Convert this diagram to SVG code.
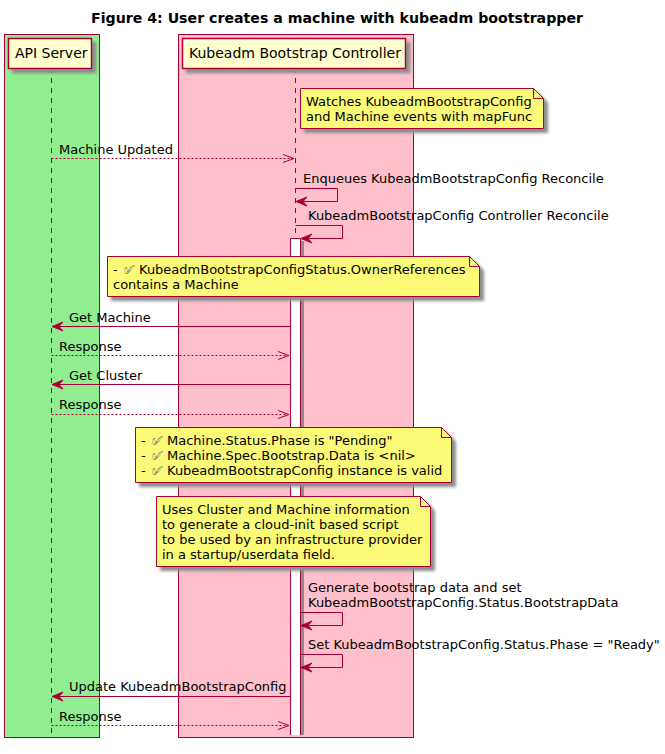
<svg xmlns="http://www.w3.org/2000/svg" width="665" height="754" viewBox="0 0 665 754">
<style>
text{font-family:"DejaVu Sans",sans-serif;font-size:13px;fill:#000}
.title{font-size:14px;font-weight:bold}
.pt{font-size:14px}
text.chk{font-family:"DejaVu Sans",sans-serif;font-variant-emoji:text;fill:#777}
.box{stroke:#A80036;stroke-width:1}
.part{fill:#FEFECE;stroke:#A80036;stroke-width:1.5;filter:url(#sh)}
.note{fill:#FBFB77;stroke:#A80036;stroke-width:1}
.notes{filter:url(#sh)}
.fold{fill:#FBFB77;stroke:#A80036;stroke-width:1}
.life{stroke:#A80036;stroke-width:1;stroke-dasharray:5 5;fill:none}
.sol{stroke:#A80036;stroke-width:1;fill:none}
.dash{stroke:#A80036;stroke-width:1;stroke-dasharray:2 2;fill:none}
.ah{fill:#A80036;stroke:#A80036;stroke-width:1}
.oh{fill:none;stroke:#A80036;stroke-width:1}
</style>
<defs>
<filter id="sh" x="-10%" y="-20%" width="125%" height="150%">
<feGaussianBlur in="SourceAlpha" stdDeviation="1.6" result="b"/>
<feOffset in="b" dx="4" dy="4" result="o"/>
<feFlood flood-color="#8c8c8c"/>
<feComposite in2="o" operator="in" result="s"/>
<feMerge><feMergeNode in="s"/><feMergeNode in="SourceGraphic"/></feMerge>
</filter>
<path id="arrowL" d="M0,0 L11,-4.5 L7,0 L11,4.5 Z"/>
<path id="openR" d="M0,0 L-11,-4 M0,0 L-11,4"/>
</defs>
<text class="title" x="337" y="23" text-anchor="middle" textLength="492" lengthAdjust="spacingAndGlyphs">Figure 4: User creates a machine with kubeadm bootstrapper</text>

<rect class="box" x="4.5" y="34.5" width="95" height="703" fill="#90EE90"/>
<rect class="box" x="178.5" y="34.5" width="235" height="703" fill="#FFC0CB"/>

<g id="lifelines">
<line class="life" x1="51.5" y1="68" x2="51.5" y2="738"/>
<line class="life" x1="295.5" y1="68" x2="295.5" y2="738"/>
</g>

<g id="api-server">
<rect class="part" x="8.5" y="38.5" width="83" height="30"/>
<text class="pt" x="15" y="58">API Server</text>
</g>
<g id="kubeadm-bootstrap-controller">
<rect class="part" x="182.5" y="38.5" width="223" height="30"/>
<text class="pt" x="189" y="58">Kubeadm Bootstrap Controller</text>
</g>

<g id="activation">
<rect x="301" y="241" width="3" height="494" fill="#8c8c8c"/>
<rect x="290.5" y="238.5" width="10" height="496.5" fill="#fff"/>
<path d="M290.5,735 V238.5 H300.5 V735" fill="none" stroke="#A80036"/>
</g>

<g id="connectors">
<line class="dash" x1="51.5" y1="158.5" x2="293" y2="158.5"/>
<use href="#openR" class="oh" x="294" y="158.5"/>
<path class="sol" d="M295.5,188.5 H337.5 V201.5 H302"/>
<use href="#arrowL" class="ah" x="296" y="201.5"/>
<path class="sol" d="M295.5,225.5 H342.5 V238.5 H307"/>
<use href="#arrowL" class="ah" x="301" y="238.5"/>
<line class="sol" x1="58" y1="326.5" x2="290" y2="326.5"/>
<use href="#arrowL" class="ah" x="52" y="326.5"/>
<line class="dash" x1="51.5" y1="355.5" x2="288" y2="355.5"/>
<use href="#openR" class="oh" x="289" y="355.5"/>
<line class="sol" x1="58" y1="384.5" x2="290" y2="384.5"/>
<use href="#arrowL" class="ah" x="52" y="384.5"/>
<line class="dash" x1="51.5" y1="414.5" x2="288" y2="414.5"/>
<use href="#openR" class="oh" x="289" y="414.5"/>
<path class="sol" d="M300.5,612.5 H342.5 V625.5 H307"/>
<use href="#arrowL" class="ah" x="301" y="625.5"/>
<path class="sol" d="M300.5,654.5 H342.5 V667.5 H307"/>
<use href="#arrowL" class="ah" x="301" y="667.5"/>
<line class="sol" x1="58" y1="696.5" x2="290" y2="696.5"/>
<use href="#arrowL" class="ah" x="52" y="696.5"/>
<line class="dash" x1="51.5" y1="725.5" x2="288" y2="725.5"/>
<use href="#openR" class="oh" x="289" y="725.5"/>
</g>

<g id="connector-labels">
<text x="59" y="154">Machine Updated</text>
<text x="303" y="183">Enqueues KubeadmBootstrapConfig Reconcile</text>
<text x="308" y="220">KubeadmBootstrapConfig Controller Reconcile</text>
<text x="69" y="322">Get Machine</text>
<text x="59" y="351">Response</text>
<text x="69" y="380">Get Cluster</text>
<text x="59" y="409">Response</text>
<text x="308" y="592">Generate bootstrap data and set</text>
<text x="308" y="607">KubeadmBootstrapConfig.Status.BootstrapData</text>
<text x="308" y="649">Set KubeadmBootstrapConfig.Status.Phase = "Ready"</text>
<text x="69" y="691">Update KubeadmBootstrapConfig</text>
<text x="59" y="721">Response</text>
</g>

<g id="note-watches">
<path class="note notes" d="M300.5,88.5 H533.5 L543.5,98.5 V128.5 H300.5 Z"/>
<path class="fold" d="M533.5,88.5 V98.5 H543.5 Z"/>
<text x="306" y="106">Watches KubeadmBootstrapConfig</text>
<text x="306" y="121">and Machine events with mapFunc</text>
</g>
<g id="note-owner">
<path class="note notes" d="M107.5,256.5 H469.5 L479.5,266.5 V296.5 H107.5 Z"/>
<path class="fold" d="M469.5,256.5 V266.5 H479.5 Z"/>
<text x="113" y="274">-</text><text class="chk" x="124" y="274">&#x2705;&#xFE0E;</text><text x="139" y="274">KubeadmBootstrapConfigStatus.OwnerReferences</text>
<text x="113" y="289">contains a Machine</text>
</g>
<g id="note-checks">
<path class="note notes" d="M135.5,427.5 H441.5 L451.5,437.5 V482.5 H135.5 Z"/>
<path class="fold" d="M441.5,427.5 V437.5 H451.5 Z"/>
<text x="141" y="445">-</text><text class="chk" x="152" y="445">&#x2705;&#xFE0E;</text><text x="167" y="445">Machine.Status.Phase is "Pending"</text>
<text x="141" y="460">-</text><text class="chk" x="152" y="460">&#x2705;&#xFE0E;</text><text x="167" y="460">Machine.Spec.Bootstrap.Data is &lt;nil&gt;</text>
<text x="141" y="475">-</text><text class="chk" x="152" y="475">&#x2705;&#xFE0E;</text><text x="167" y="475">KubeadmBootstrapConfig instance is valid</text>
</g>
<g id="note-cloudinit">
<path class="note notes" d="M156.5,496.5 H420.5 L430.5,506.5 V566.5 H156.5 Z"/>
<path class="fold" d="M420.5,496.5 V506.5 H430.5 Z"/>
<text x="162" y="514">Uses Cluster and Machine information</text>
<text x="162" y="529">to generate a cloud-init based script</text>
<text x="162" y="544">to be used by an infrastructure provider</text>
<text x="162" y="559">in a startup/userdata field.</text>
</g>
</svg>
